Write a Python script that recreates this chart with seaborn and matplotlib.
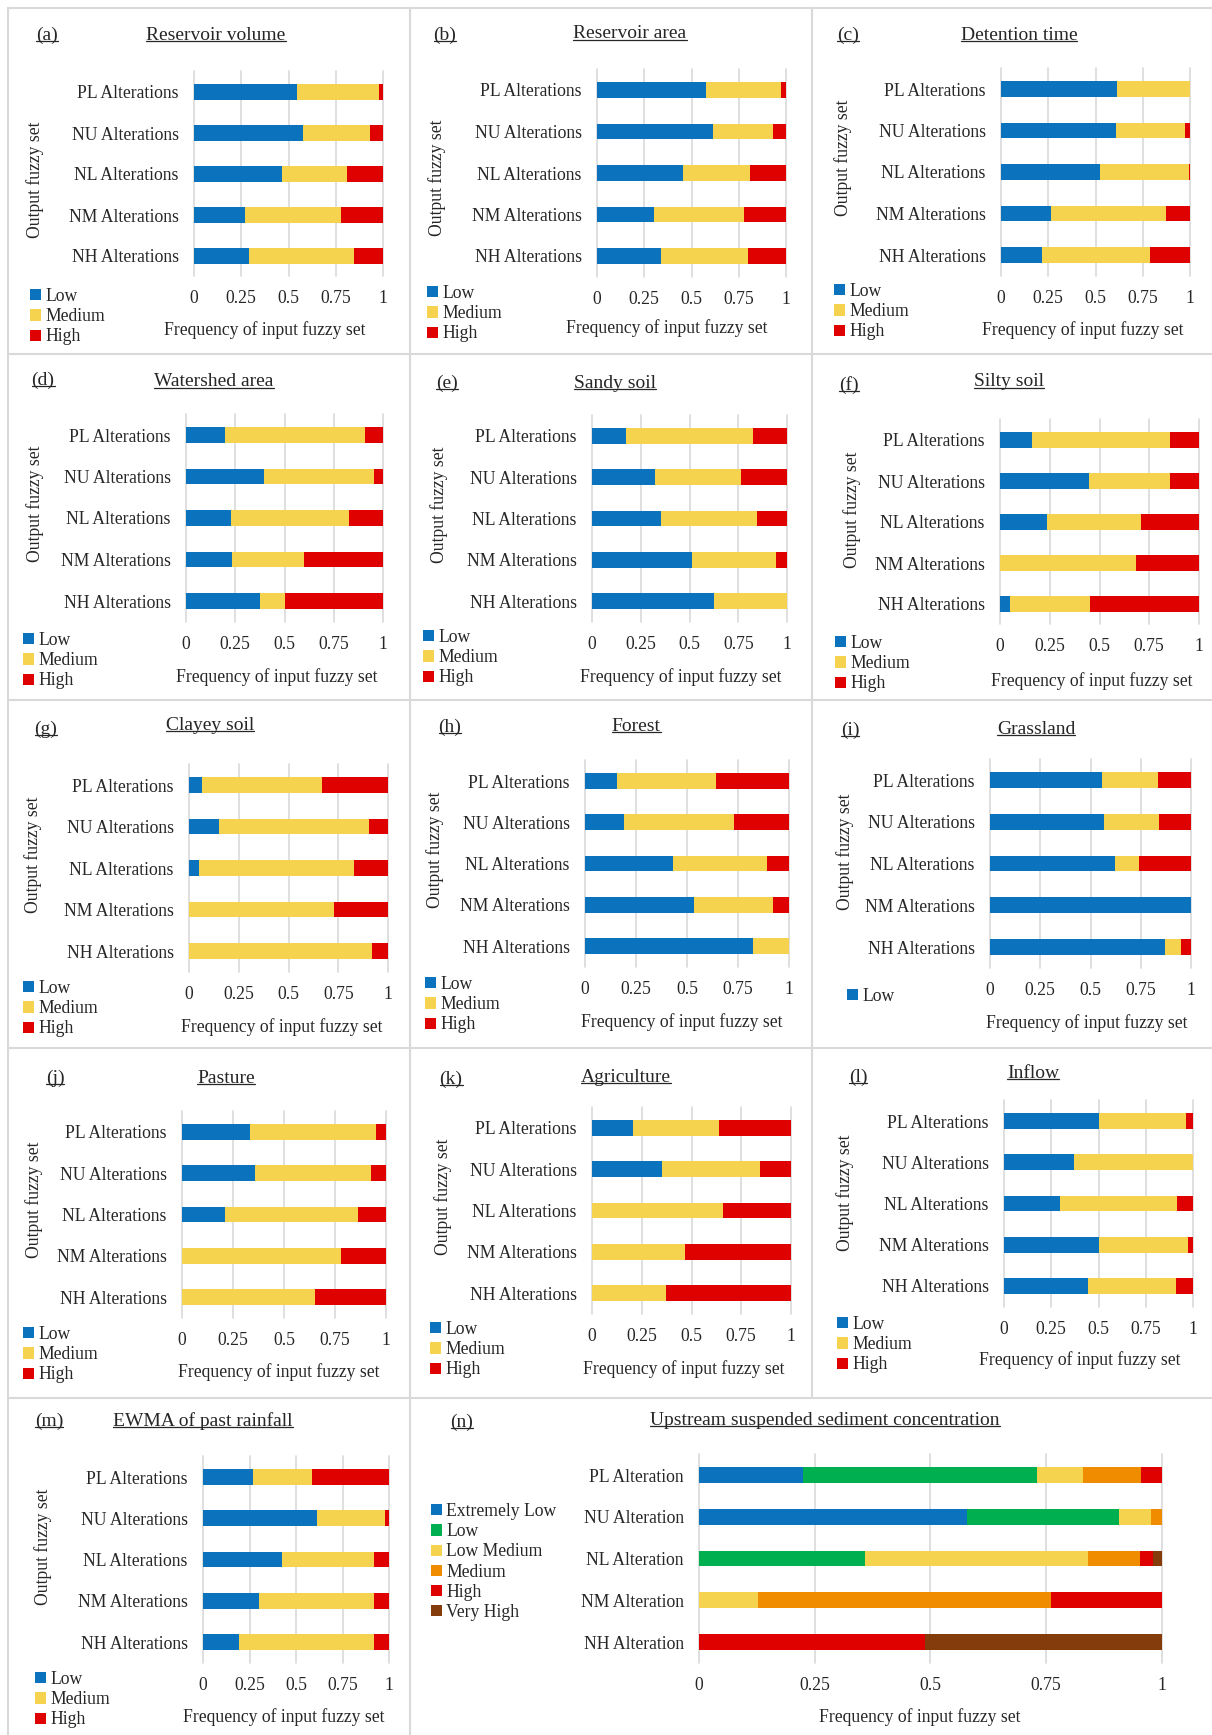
import numpy as np
import matplotlib
matplotlib.use("Agg")   # headless
import matplotlib.pyplot as plt
from matplotlib.patches import Patch
from matplotlib.lines import Line2D
import seaborn as sns

# ── figure size (pixels) ──────────────────────
W, H = 1212, 1735

# ── categories / ticks ────────────────────────
alterations   = ["PL Alterations", "NU Alterations", "NL Alterations",
                 "NM Alterations", "NH Alterations"]
alterations_n = ["PL Alteration", "NU Alteration", "NL Alteration",
                 "NM Alteration", "NH Alteration"]
levels3 = ["Low", "Medium", "High"]
levels6 = ["Extremely Low", "Low", "Low Medium", "Medium", "High", "Very High"]
xticks       = [0, 0.25, 0.5, 0.75, 1]
xtick_labels = ["0", "0.25", "0.5", "0.75", "1"]

# ── frequencies: rows PL..NH, cols Low / Medium / High ──
reservoir_volume = [[0.545, 0.432, 0.023], [0.578, 0.351, 0.071], [0.467, 0.344, 0.189],
                    [0.272, 0.504, 0.224], [0.291, 0.556, 0.153]]
reservoir_area   = [[0.577, 0.397, 0.026], [0.612, 0.317, 0.071], [0.453, 0.357, 0.190],
                    [0.300, 0.478, 0.222], [0.340, 0.457, 0.203]]
detention_time   = [[0.614, 0.386, 0.000], [0.610, 0.365, 0.025], [0.522, 0.473, 0.005],
                    [0.263, 0.608, 0.129], [0.215, 0.575, 0.210]]
watershed_area   = [[0.199, 0.708, 0.093], [0.397, 0.559, 0.044], [0.229, 0.596, 0.175],
                    [0.233, 0.365, 0.402], [0.374, 0.127, 0.499]]
sandy_soil       = [[0.176, 0.651, 0.173], [0.323, 0.439, 0.238], [0.352, 0.496, 0.152],
                    [0.515, 0.427, 0.058], [0.626, 0.374, 0.000]]
silty_soil       = [[0.162, 0.694, 0.144], [0.446, 0.407, 0.147], [0.235, 0.473, 0.292],
                    [0.000, 0.683, 0.317], [0.050, 0.404, 0.546]]
clayey_soil      = [[0.065, 0.602, 0.333], [0.152, 0.754, 0.094], [0.050, 0.778, 0.172],
                    [0.000, 0.731, 0.269], [0.000, 0.920, 0.080]]
forest           = [[0.157, 0.487, 0.356], [0.193, 0.538, 0.269], [0.431, 0.461, 0.108],
                    [0.536, 0.387, 0.077], [0.823, 0.177, 0.000]]
grassland        = [[0.555, 0.281, 0.164], [0.568, 0.271, 0.161], [0.623, 0.120, 0.257],
                    [1.000, 0.000, 0.000], [0.870, 0.079, 0.051]]
pasture          = [[0.334, 0.615, 0.051], [0.357, 0.570, 0.073], [0.210, 0.653, 0.137],
                    [0.000, 0.780, 0.220], [0.000, 0.650, 0.350]]
agriculture      = [[0.205, 0.434, 0.361], [0.353, 0.491, 0.156], [0.000, 0.657, 0.343],
                    [0.000, 0.465, 0.535], [0.000, 0.371, 0.629]]
inflow           = [[0.503, 0.458, 0.039], [0.372, 0.628, 0.000], [0.296, 0.618, 0.086],
                    [0.503, 0.469, 0.028], [0.446, 0.464, 0.090]]
ewma_rainfall    = [[0.270, 0.315, 0.415], [0.614, 0.365, 0.021], [0.427, 0.490, 0.083],
                    [0.299, 0.618, 0.083], [0.195, 0.722, 0.083]]
# cols Extremely Low / Low / Low Medium / Medium / High / Very High
upstream_ssc     = [[0.224, 0.506, 0.100, 0.125, 0.045, 0.000],
                    [0.579, 0.329, 0.069, 0.023, 0.000, 0.000],
                    [0.000, 0.359, 0.481, 0.113, 0.027, 0.020],
                    [0.000, 0.000, 0.127, 0.634, 0.239, 0.000],
                    [0.000, 0.000, 0.000, 0.000, 0.489, 0.511]]

# ── styling ───────────────────────────────────
C3 = ["#0B72BD", "#F5D34E", "#DF0000"]
C6 = ["#0B72BD", "#00B050", "#F5D34E", "#F08C00", "#DF0000", "#843C0C"]
TXT   = "#262626"
GRIDC = "#d9d9d9"
FS    = 12.7

sns.set_style("white")
plt.rcParams["font.family"] = ["Liberation Serif", "DejaVu Serif"]
plt.rcParams["text.color"] = TXT


def fx(x):
    return x / W


def fy(y):
    return 1 - y / H


def underlined(fig, x, y, s, size):
    t = fig.text(fx(x), fy(y), s, fontsize=size, ha="center", va="center", color=TXT)
    bb = t.get_window_extent(renderer=fig.canvas.get_renderer())
    em = size * fig.dpi / 72
    yy = (bb.y0 + 0.13 * em) / fig.bbox.height
    fig.add_artist(Line2D([bb.x0 / fig.bbox.width, bb.x1 / fig.bbox.width], [yy, yy],
                          color=TXT, lw=0.9))


def draw_panel(fig, data, cats, levels, colors, box, tag, title, ylab, leg, xlab,
               n_leg=None):
    x0, x1, y_first, y_last = box
    step = (y_last - y_first) / (len(cats) - 1)
    top, bot = y_first - step / 2, y_last + step / 2
    ax = fig.add_axes([fx(x0), fy(bot), (x1 - x0) / W, (bot - top) / H])
    ax.patch.set_alpha(0)

    vals = np.asarray(data, float)
    cum = vals.cumsum(axis=1)
    # stacked bars: draw cumulative totals back to front
    for j in range(vals.shape[1] - 1, -1, -1):
        sns.barplot(x=cum[:, j], y=cats, color=colors[j], width=0.38,
                    saturation=1, errorbar=None, linewidth=0, orient="h", ax=ax)

    ax.set_xlim(0, 1)
    ax.set_ylim(len(cats) - 0.5, -0.5)
    ax.set_xticks(xticks)
    ax.set_xticklabels(xtick_labels)
    ax.set_xlabel("")
    ax.set_ylabel("")
    ax.xaxis.grid(True, color=GRIDC, lw=1.2)
    ax.yaxis.grid(False)
    ax.set_axisbelow(True)
    for ln in ax.get_xgridlines():
        ln.set_clip_on(False)
    sns.despine(ax=ax, left=True, bottom=True)
    ax.tick_params(axis="y", length=0, pad=11, labelsize=FS, labelcolor=TXT)
    ax.tick_params(axis="x", length=0, pad=10, labelsize=FS, labelcolor=TXT)

    # panel tag + title
    underlined(fig, tag[0], tag[1], tag[2], 14)
    underlined(fig, title[0], title[1], title[2], 14)
    if ylab is not None:
        fig.text(fx(ylab[0]), fy(ylab[1]), "Output fuzzy set", rotation=90,
                 fontsize=FS, ha="center", va="center", color=TXT)
    fig.text(fx(xlab[0]), fy(xlab[1]), "Frequency of input fuzzy set",
             fontsize=FS, ha="center", va="center", color=TXT)

    n = len(levels) if n_leg is None else n_leg
    handles = [Patch(facecolor=colors[k], edgecolor="none") for k in range(n)]
    fig.legend(handles, levels[:n], loc="upper left",
               bbox_to_anchor=(fx(leg[0]), fy(leg[1] - 7)),
               frameon=False, fontsize=FS, handlelength=0.6, handleheight=0.6,
               handletextpad=0.25, labelspacing=0.18, borderpad=0,
               borderaxespad=0)
    return ax


fig = plt.figure(figsize=(W / 100, H / 100), dpi=100)

# panel frames
for yy in [8, 354, 700, 1048, 1398]:
    fig.add_artist(Line2D([fx(8), 1], [fy(yy), fy(yy)], color=GRIDC, lw=1.5))
fig.add_artist(Line2D([fx(8), fx(8)], [fy(8), 0], color=GRIDC, lw=1.5))
fig.add_artist(Line2D([fx(410), fx(410)], [fy(8), 0], color=GRIDC, lw=1.5))
fig.add_artist(Line2D([fx(812), fx(812)], [fy(8), fy(1398)], color=GRIDC, lw=1.5))

# row 1
draw_panel(fig, reservoir_volume, alterations, levels3, C3, (194, 383, 92, 256),
           (47, 35, "(a)"), (216, 35, "Reservoir volume"), (35, 180), (30, 295), (265, 330))
draw_panel(fig, reservoir_area, alterations, levels3, C3, (597, 786, 90, 256),
           (445, 35, "(b)"), (630, 34, "Reservoir area"), (437, 178), (427, 292), (667, 328))
draw_panel(fig, detention_time, alterations, levels3, C3, (1001, 1190, 89, 255),
           (848, 35, "(c)"), (1019, 35, "Detention time"), (843, 158), (834, 290), (1083, 330))
# row 2
draw_panel(fig, watershed_area, alterations, levels3, C3, (186, 383, 435, 601),
           (43, 380, "(d)"), (214, 382, "Watershed area"), (35, 504), (23, 639), (277, 677))
draw_panel(fig, sandy_soil, alterations, levels3, C3, (592, 787, 436, 601),
           (447, 383, "(e)"), (615, 383, "Sandy soil"), (439, 505), (423, 636), (681, 677))
draw_panel(fig, silty_soil, alterations, levels3, C3, (1000, 1199, 440, 604),
           (849, 385, "(f)"), (1009, 382, "Silty soil"), (852, 510), (835, 642), (1092, 681))
# row 3
draw_panel(fig, clayey_soil, alterations, levels3, C3, (189, 388, 785, 951),
           (46, 729, "(g)"), (210, 725, "Clayey soil"), (33, 855), (23, 987), (282, 1027))
draw_panel(fig, forest, alterations, levels3, C3, (585, 789, 781, 946),
           (450, 727, "(h)"), (636, 726, "Forest"), (435, 850), (425, 983), (682, 1022))
draw_panel(fig, grassland, alterations, levels3, C3, (990, 1191, 780, 947),
           (850, 730, "(i)"), (1036, 729, "Grassland"), (845, 852), (847, 995), (1087, 1023),
           n_leg=1)
# row 4
draw_panel(fig, pasture, alterations, levels3, C3, (182, 386, 1132, 1297),
           (55, 1078, "(j)"), (226, 1078, "Pasture"), (34, 1200), (23, 1333), (279, 1372))
draw_panel(fig, agriculture, alterations, levels3, C3, (592, 791, 1128, 1293),
           (451, 1079, "(k)"), (626, 1077, "Agriculture"), (443, 1197), (430, 1328), (684, 1369))
draw_panel(fig, inflow, alterations, levels3, C3, (1004, 1193, 1121, 1286),
           (858, 1077, "(l)"), (1033, 1073, "Inflow"), (845, 1193), (837, 1323), (1080, 1360))
# row 5
draw_panel(fig, ewma_rainfall, alterations, levels3, C3, (203, 389, 1477, 1642),
           (49, 1421, "(m)"), (203, 1421, "EWMA of past rainfall"), (43, 1547), (35, 1678),
           (284, 1717))
draw_panel(fig, upstream_ssc, alterations_n, levels6, C6, (699, 1162, 1475, 1642),
           (462, 1422, "(n)"), (825, 1420, "Upstream suspended sediment concentration"),
           None, (431, 1510), (920, 1717))

fig.savefig("out.png", dpi=100, facecolor="white")
